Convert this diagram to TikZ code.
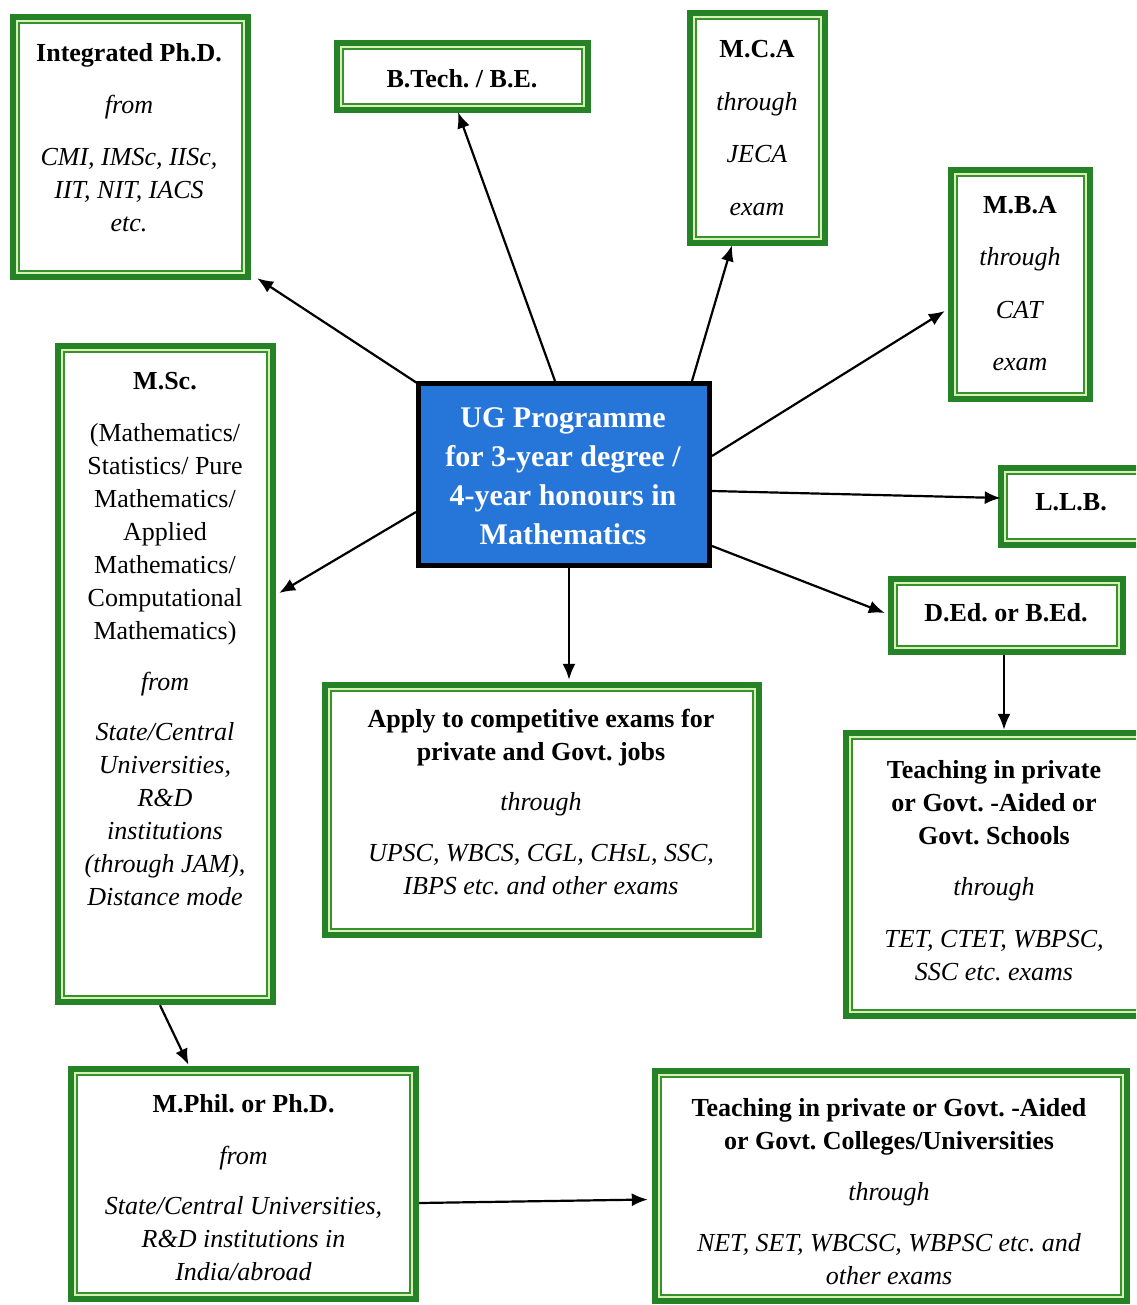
\documentclass[tikz,border=0pt]{standalone}
\usepackage{fontspec}
\setmainfont{Liberation Serif}
\usetikzlibrary{arrows.meta}
\definecolor{gout}{RGB}{38,130,38}
\definecolor{ggap}{RGB}{215,240,180}
\definecolor{gin}{RGB}{55,145,45}
\definecolor{ugblue}{RGB}{38,118,218}
\newcommand{\gframe}[1]{%
  \draw[gapline] ([shift={(7,7)}]#1.north west) rectangle ([shift={(-7,-7)}]#1.south east);
  \draw[inline] ([shift={(9,9)}]#1.north west) rectangle ([shift={(-9,-9)}]#1.south east);}
\frenchspacing
\begin{document}
\begin{tikzpicture}[x=0.5pt,y=-0.5pt,
  gbox/.style={draw=gout, line width=3.2pt, fill=white, rectangle, inner sep=0pt, outer sep=1.6pt},
  gapline/.style={draw=ggap, line width=1pt},
  inline/.style={draw=gin, line width=1pt},
  txt/.style={align=center, inner sep=0pt, font=\fontsize{13}{16.5}\selectfont},
  ugbox/.style={draw=black, line width=2.5pt, fill=ugblue, rectangle, inner sep=0pt, outer sep=1.25pt},
  arr/.style={-{Latex[length=8pt,width=6.5pt]}, line width=1.1pt, black},
]
\useasboundingbox (0,0) rectangle (1136,1305);
\clip (0,0) rectangle (1136,1305);

% boxes
\node[gbox, minimum width=117.5pt, minimum height=130pt] (phd) at (130.5,147) {};
\node[gbox, minimum width=125.5pt, minimum height=33.5pt] (btech) at (462.5,76.5) {};
\node[gbox, minimum width=67.5pt, minimum height=115pt] (mca) at (757.5,128) {};
\node[gbox, minimum width=69.5pt, minimum height=114.5pt] (mba) at (1020.5,284.5) {};
\node[gbox, minimum width=73pt, minimum height=38.5pt] (llb) at (1074,506.5) {};
\node[gbox, minimum width=116pt, minimum height=36.5pt] (ded) at (1007,615.5) {};
\node[gbox, minimum width=148.5pt, minimum height=141.5pt] (teachs) at (994.5,874.5) {};
\node[gbox, minimum width=107.5pt, minimum height=328pt] (msc) at (165.5,674) {};
\node[gbox, minimum width=217pt, minimum height=125pt] (apply) at (542,810) {};
\node[gbox, minimum width=172.5pt, minimum height=115pt] (mphil) at (243.5,1184) {};
\node[gbox, minimum width=236pt, minimum height=115pt] (teachc) at (891,1186) {};
\foreach \n in {phd,btech,mca,mba,llb,ded,teachs,msc,apply,mphil,teachc}{\gframe{\n}}

\node[ugbox, minimum width=145.5pt, minimum height=91pt] (ug) at (564,474.5) {};

% texts
\node[txt] (tphd) at (129,138) {\textbf{Integrated Ph.D.}\\[9.5pt]\textit{from}\\[9.5pt]\textit{CMI, IMSc, IISc,}\\\textit{IIT, NIT, IACS}\\\textit{etc.}};
\node[txt] (tbtech) at (462,79) {\textbf{B.Tech. / B.E.}};
\node[txt] (tmca) at (757,128) {\textbf{M.C.A}\\[9.75pt]\textit{through}\\[9.75pt]\textit{JECA}\\[9.75pt]\textit{exam}};
\node[txt] (tmba) at (1020,283.5) {\textbf{M.B.A}\\[9.75pt]\textit{through}\\[9.75pt]\textit{CAT}\\[9.75pt]\textit{exam}};
\node[txt] (tllb) at (1071,502) {\textbf{L.L.B.}};
\node[txt] (tded) at (1006,613) {\textbf{D.Ed. or B.Ed.}};
\node[txt] (tteachs) at (994,871) {\textbf{Teaching in private}\\\textbf{or Govt. -Aided or}\\\textbf{Govt. Schools}\\[9pt]\textit{through}\\[9.5pt]\textit{TET, CTET, WBPSC,}\\\textit{SSC etc. exams}};
\node[txt] (tmsc) at (165,639) {\textbf{M.Sc.}\\[9.5pt](Mathematics/\\Statistics/ Pure\\Mathematics/\\Applied\\Mathematics/\\Computational\\Mathematics)\\[9pt]\textit{from}\\[8.5pt]\textit{State/Central}\\\textit{Universities,}\\\textit{R\&D}\\\textit{institutions}\\\textit{(through JAM),}\\\textit{Distance mode}};
\node[txt] (tapply) at (541,802) {\textbf{Apply to competitive exams for}\\\textbf{private and Govt. jobs}\\[8.5pt]\textit{through}\\[9pt]\textit{UPSC, WBCS, CGL, CHsL, SSC,}\\\textit{IBPS etc. and other exams}};
\node[txt] (tmphil) at (243.5,1187.5) {\textbf{M.Phil. or Ph.D.}\\[9.5pt]\textit{from}\\[8.5pt]\textit{State/Central Universities,}\\\textit{R\&D institutions in}\\\textit{India/abroad}};
\node[txt] (tteachc) at (889,1192) {\textbf{Teaching in private or Govt. -Aided}\\\textbf{or Govt. Colleges/Universities}\\[9pt]\textit{through}\\[9pt]\textit{NET, SET, WBCSC, WBPSC etc. and}\\\textit{other exams}};
\node[align=center, inner sep=0pt, text=white, font=\fontsize{15}{19.5}\selectfont\bfseries] (tug) at (563,476) {UG Programme\\for 3-year degree /\\4-year honours in\\Mathematics};

% connectors
\draw[arr] ([shift={(1,2)}]ug.north west) -- ([shift={(6,-2)}]phd.south east);
\draw[arr] ([shift={(-9,0)}]ug.north) -- ([shift={(-4.5,-1)}]btech.south);
\draw[arr] ([shift={(-20,0)}]ug.north east) -- ([shift={(-25.5,-1)}]mca.south);
\draw[arr] ([shift={(0,-18.5)}]ug.east) -- ([shift={(-3,26.5)}]mba.west);
\draw[arr] ([shift={(0,16.5)}]ug.east) -- ([shift={(3,-8.5)}]llb.west);
\draw[arr] ([shift={(0,71.5)}]ug.east) -- ([shift={(-3,-2.5)}]ded.west);
\draw[arr] ([shift={(0,37.5)}]ug.west) -- ([shift={(3,-81)}]msc.east);
\draw[arr] ([shift={(5,0)}]ug.south) -- ([shift={(27,-2)}]apply.north);
\draw[arr] ([shift={(-3,0)}]ded.south) -- ([shift={(9.5,0)}]teachs.north);
\draw[arr] ([shift={(-5.5,0)}]msc.south) -- ([shift={(-55,-1)}]mphil.north);
\draw[arr] ([shift={(0,19)}]mphil.east) -- ([shift={(-4,13.5)}]teachc.west);
\end{tikzpicture}
\end{document}
